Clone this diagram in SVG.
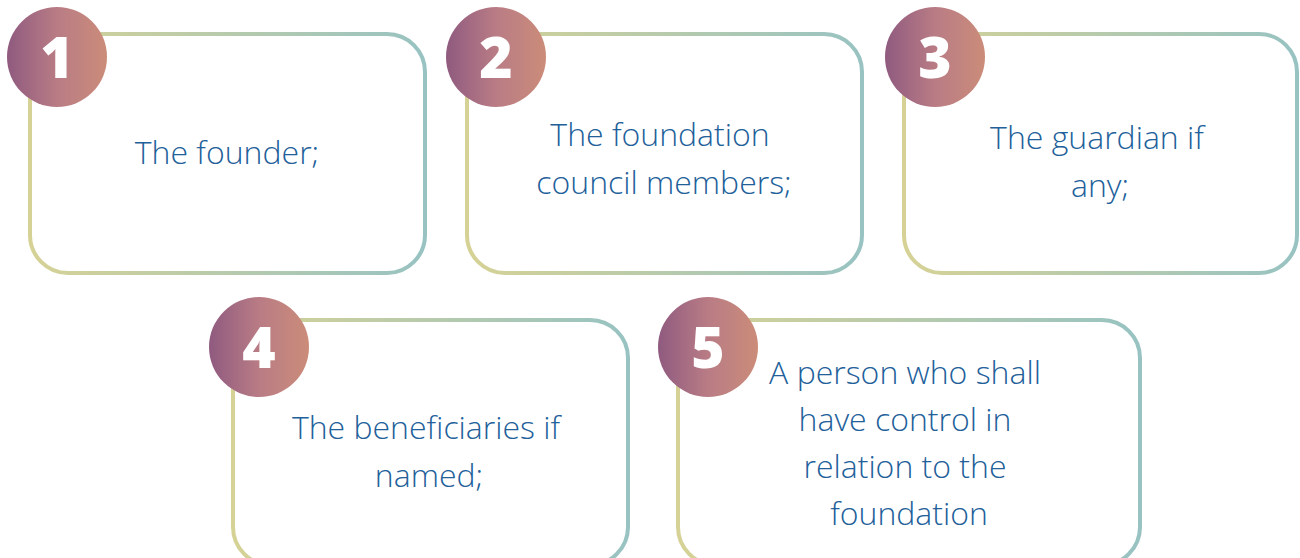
<svg xmlns="http://www.w3.org/2000/svg" width="1300" height="558" viewBox="0 0 1300 558">
  <defs>
    <linearGradient id="frame" x1="0" y1="0" x2="1" y2="0">
      <stop offset="0" stop-color="#d6d296"/>
      <stop offset="1" stop-color="#98c3c2"/>
    </linearGradient>
    <linearGradient id="badge" x1="0" y1="0" x2="1" y2="0">
      <stop offset="0" stop-color="#8f5a7f"/>
      <stop offset="0.5" stop-color="#b97c85"/>
      <stop offset="1" stop-color="#cb8c79"/>
    </linearGradient>
  </defs>
  <style>
    .box { fill: #ffffff; stroke: url(#frame); stroke-width: 4; }
    .badge { fill: url(#badge); }
    .num { font-family: "Open Sans", "Liberation Sans", sans-serif; font-weight: 800; font-size: 57px; fill: #ffffff; text-anchor: middle; }
    .label { font-family: "Open Sans", "Liberation Sans", sans-serif; font-weight: 300; font-size: 32px; fill: #22609a; text-anchor: middle; }
  </style>
  <g id="connectors"/>
  <g id="node-1">
    <rect class="box" x="30" y="34" width="395" height="239" rx="38"/>
    <circle class="badge" cx="57" cy="57" r="50"/>
    <text class="num" x="57" y="78">1</text>
    <text class="label" x="227" y="164">The founder;</text>
  </g>
  <g id="node-2">
    <rect class="box" x="467" y="34" width="395" height="239" rx="38"/>
    <circle class="badge" cx="496" cy="57" r="50"/>
    <text class="num" x="496" y="78">2</text>
    <text class="label" x="660" y="146">The foundation</text>
    <text class="label" x="664" y="194">council members;</text>
  </g>
  <g id="node-3">
    <rect class="box" x="904" y="34" width="393" height="239" rx="38"/>
    <circle class="badge" cx="935" cy="57" r="50"/>
    <text class="num" x="935" y="78">3</text>
    <text class="label" x="1097" y="149">The guardian if</text>
    <text class="label" x="1100" y="197">any;</text>
  </g>
  <g id="node-4">
    <rect class="box" x="233" y="320" width="395" height="245" rx="38"/>
    <circle class="badge" cx="259" cy="347" r="50"/>
    <text class="num" x="259" y="368">4</text>
    <text class="label" x="426" y="439">The beneficiaries if</text>
    <text class="label" x="429" y="487">named;</text>
  </g>
  <g id="node-5">
    <rect class="box" x="678" y="320" width="462" height="245" rx="38"/>
    <circle class="badge" cx="708" cy="347" r="50"/>
    <text class="num" x="708" y="368">5</text>
    <text class="label" x="905" y="384">A person who shall</text>
    <text class="label" x="905" y="431">have control in</text>
    <text class="label" x="905" y="478">relation to the</text>
    <text class="label" x="909" y="525">foundation</text>
  </g>
</svg>
